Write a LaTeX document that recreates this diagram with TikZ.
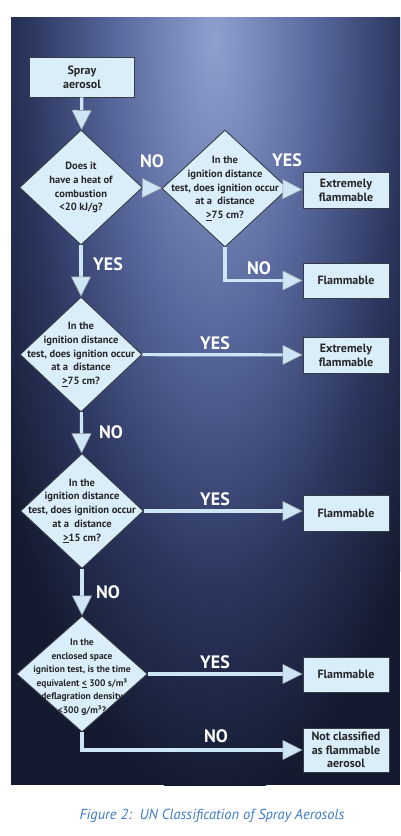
\documentclass[tikz,border=0pt]{standalone}
\usepackage{fontspec}
\setmainfont{PT Sans}[BoldFont={PT Sans Bold},ItalicFont={PT Sans Italic}]
\usetikzlibrary{shapes.geometric,arrows.meta,positioning}

\definecolor{boxfill}{HTML}{DAEEF9}
\definecolor{boxline}{HTML}{363B46}
\definecolor{boxtext}{HTML}{26262A}
\definecolor{bgdark}{HTML}{141A2F}
\definecolor{bgdeep}{HTML}{2B365E}
\definecolor{bgmid}{HTML}{56669A}
\definecolor{bgglow}{HTML}{8FA0CF}
\definecolor{arrowcol}{HTML}{CDE5F4}
\definecolor{capblue}{HTML}{3C7CC4}

\pgfdeclareradialshading{glow}{\pgfpoint{0bp}{0bp}}{color(0bp)=(bgglow); color(10bp)=(bgmid); color(18bp)=(bgdeep); color(25bp)=(bgdark); color(50bp)=(bgdark)}

\tikzset{
  outbox/.style={rectangle, draw=boxline, fill=boxfill, line width=0.9pt,
    minimum width=86, minimum height=36, inner sep=1pt, align=center,
    text=boxtext, font=\fontsize{12}{14}\selectfont\bfseries},
  decision/.style={diamond, draw=boxline, fill=boxfill, line width=0.9pt,
    inner sep=0pt},
  dtext/.style={align=center, text=boxtext, inner sep=0pt,
    font=\fontsize{10.5}{13.8}\selectfont\bfseries},
  flow/.style={draw=arrowcol, line width=3.2pt,
    -{Triangle[width=20pt,length=20pt,line width=0.5pt,fill=arrowcol,color=boxline!50]}},
  answer/.style={text=white, inner sep=0pt,
    font=\fontsize{18}{18}\selectfont\bfseries}
}

\begin{document}
\begin{tikzpicture}[x=1pt,y=-1pt]
 \useasboundingbox (0,0) rectangle (400,836);
 \fill[white] (0,0) rectangle (400,836);
 % dark panel with the light glow at the top
 \fill[bgdark] (11,17) rectangle (400,785);
 \begin{scope}
  \clip (11,17) rectangle (400,785);
  \shade[shading=glow] (215,40) ellipse (260 and 760);
 \end{scope}

 % boxes and questions
 \node[outbox, minimum width=105, minimum height=40] (spray) at (82,77) {Spray\\aerosol};
 \node[decision, minimum width=123, minimum height=115] (heat) at (81,187.5) {};
 \node[dtext] (heatq) at (heat) {Does it\\have a heat of\\combustion\\<20~kJ/g?};
 \node[decision, minimum width=126, minimum height=117] (igna) at (225,188.5) {};
 \node[dtext] (ignaq) at (igna) {In the\\ignition distance\\test, does ignition occur\\at a~~distance\\\underline{>}75~cm?};
 \node[outbox] (xfa) at (346,190) {Extremely\\flammable};
 \node[outbox, minimum height=35] (fla) at (346,280.5) {Flammable};

 \node[decision, minimum width=122, minimum height=115] (ignb) at (81,354.5) {};
 \node[dtext] (ignbq) at (ignb) {In the\\ignition distance\\test, does ignition occur\\at a~~distance\\\underline{>}75~cm?};
 \node[outbox] (xfb) at (346,355) {Extremely\\flammable};

 \node[decision, minimum width=123, minimum height=115] (ignc) at (82,511) {};
 \node[dtext] (igncq) at (ignc) {In the\\ignition distance\\test, does ignition occur\\at a~~distance\\\underline{>}15~cm?};
 \node[outbox] (flb) at (346,513) {Flammable};

 \node[decision, minimum width=131, minimum height=116] (encl) at (82,674) {};
 \node[dtext, font=\fontsize{9.5}{13.5}\selectfont\bfseries] (enclq) at ([yshift=-3]encl)
   {In the\\enclosed space\\ignition test, is the time\\equivalent \underline{<}~300~s/m³\\deflagration density\\\underline{<}300~g/m³?};
 \node[outbox, minimum height=35] (flc) at (346,674.5) {Flammable};
 \node[outbox, minimum height=44, inner sep=0pt, font=\fontsize{12}{13.5}\selectfont\bfseries] (notcl) at (346,750) {Not classified\\as flammable\\aerosol};

 % connectors
 \draw[flow] (spray) -- (heat);
 \draw[flow] (heat) -- (igna);
 \draw[flow] (igna) -- (xfa);
 \draw[flow] (igna.south) |- (fla.west);
 \draw[flow] (heat) -- (ignb);
 \draw[flow] (ignb) -- (xfb);
 \draw[flow] (ignb) -- (ignc);
 \draw[flow] (ignc) -- (flb.west |- ignc);
 \draw[flow] (ignc) -- (encl);
 \draw[flow] (encl) -- (flc.west |- encl);
 \draw[flow] (encl.south) |- (notcl.west);

 % answers
 \node[answer] (noa) at (152,161) {NO};
 \node[answer] (yesa) at (287,160) {YES};
 \node[answer] (nob) at (259,268) {NO};
 \node[answer] (yesb) at (108,264.5) {YES};
 \node[answer] (yesc) at (215,343.5) {YES};
 \node[answer] (noc) at (111,432) {NO};
 \node[answer] (yesd) at (215,499) {YES};
 \node[answer] (nod) at (108,592.5) {NO};
 \node[answer] (yese) at (215,662.5) {YES};
 \node[answer] (noe) at (216,736.5) {NO};

 \node[text=capblue, font=\fontsize{14.5}{16}\selectfont\itshape] (caption) at (212,816)
   {Figure 2:~~UN Classification of Spray Aerosols};
\end{tikzpicture}
\end{document}
